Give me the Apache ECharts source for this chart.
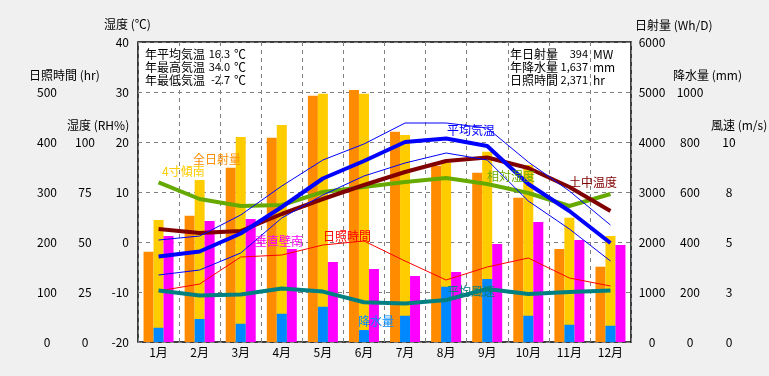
<!DOCTYPE html>
<html><head><meta charset="utf-8">
<script src="https://cdn.jsdelivr.net/npm/echarts@6/dist/echarts.min.js"></script>
<style>html,body{margin:0;padding:0;background:#F0F0F0}#c{width:769px;height:376px}</style>
</head><body><div id="c"></div>
<script>
const months = ['1月','2月','3月','4月','5月','6月','7月','8月','9月','10月','11月','12月'];
const solarAll   = [1806,2526,3486,4086,4926,5040,4206,3526,3386,2886,1860,1506];
const solarTilt4 = [2440,3240,4100,4340,4966,4966,4140,3586,3806,3540,2486,2120];
const solarVertS = [2120,2420,2460,1860,1600,1460,1320,1400,1960,2400,2040,1940];
const precip     = [57,92,73,113,141,48,105,221,252,105,69,65];
const tempAvg    = [-2.9,-1.9,1.7,7.0,12.7,16.2,20.0,20.7,19.2,11.6,6.2,-0.2];
const tempMax    = [0.4,1.2,5.4,11.2,16.4,19.6,23.8,23.8,22.8,16.0,10.2,3.4];
const tempMin    = [-6.6,-5.6,-2.2,4.8,9.4,13.2,15.8,17.8,16.4,8.2,2.6,-3.8];
const soilTemp   = [2.6,1.8,2.2,5.6,8.6,11.4,14.0,16.2,16.9,14.8,11.0,6.2];
const humidity   = [79.8,71.5,68,68.5,75,77.5,80,82,79,74.5,68,74];
const sunshine   = [102,116,170,174,194,202,162,124,150,168,128,112];
const wind       = [2.57,2.33,2.37,2.68,2.52,1.99,1.93,2.1,2.65,2.4,2.5,2.58];

const summaryLeft  = [['年平均気温','16.3','℃'],['年最高気温','34.0','℃'],['年最低気温','-2.7','℃']];
const summaryRight = [['年日射量','394','MW'],['年降水量','1,637','mm'],['日照時間','2,371','hr']];

const axisNames = [
  {text:'湿度 (℃)', x:104, y:24},
  {text:'日照時間 (hr)', x:29, y:75},
  {text:'湿度 (RH%)', x:67, y:125},
  {text:'日射量 (Wh/D)', x:635, y:25},
  {text:'降水量 (mm)', x:673, y:75},
  {text:'風速 (m/s)', x:711, y:125}
];
const seriesTags = [
  {text:'全日射量', x:193, y:159, c:'#FF8C00'},
  {text:'4寸傾南', x:162, y:171, c:'#FFCC00'},
  {text:'垂直壁南', x:255, y:241, c:'#FF00FF'},
  {text:'日照時間', x:323, y:236, c:'#FF0000'},
  {text:'降水量', x:358, y:321, c:'#0088FF'},
  {text:'平均風速', x:447, y:291, c:'#008080'},
  {text:'相対湿度', x:487, y:176, c:'#66AA00'},
  {text:'平均気温', x:447, y:130, c:'#0000FF'},
  {text:'土中温度', x:569, y:182, c:'#800000'}
];

const FONT = '"Noto Sans CJK JP", "Noto Sans", sans-serif';
const fontStr = '12px ' + FONT;
const numFont = '11px ' + FONT;
const graphics = [];
axisNames.forEach(a => graphics.push({type:'text', x:a.x, y:a.y, z:100,
  style:{text:a.text, font:fontStr, fill:'#000', align:'left', verticalAlign:'middle'}}));
seriesTags.forEach(a => graphics.push({type:'text', x:a.x, y:a.y, z:100,
  style:{text:a.text, font:fontStr, fill:a.c, align:'left', verticalAlign:'middle'}}));
summaryLeft.forEach((r,i) => {
  const y = 54 + i*13;
  graphics.push({type:'text', x:145, y, z:100, style:{text:r[0], font:fontStr, fill:'#000', align:'left', verticalAlign:'middle'}});
  graphics.push({type:'text', x:230, y, z:100, style:{text:r[1], font:numFont, fill:'#000', align:'right', verticalAlign:'middle'}});
  graphics.push({type:'text', x:234, y, z:100, style:{text:r[2], font:fontStr, fill:'#000', align:'left', verticalAlign:'middle'}});
});
summaryRight.forEach((r,i) => {
  const y = 54 + i*13;
  graphics.push({type:'text', x:510, y, z:100, style:{text:r[0], font:fontStr, fill:'#000', align:'left', verticalAlign:'middle'}});
  graphics.push({type:'text', x:588, y, z:100, style:{text:r[1], font:numFont, fill:'#000', align:'right', verticalAlign:'middle'}});
  graphics.push({type:'text', x:593, y, z:100, style:{text:r[2], font:fontStr, fill:'#000', align:'left', verticalAlign:'middle'}});
});

const lbl = (extra) => Object.assign({color:'#000', fontSize:12, fontFamily:FONT}, extra);
const hiddenLine = {show:false};
function yAx(o){
  return Object.assign({type:'value', axisLine:hiddenLine, axisTick:{show:false}, splitLine:{show:false}}, o);
}

const chart = echarts.init(document.getElementById('c'), null, {renderer:'canvas'});
chart.setOption({
  animation:false,
  backgroundColor:'#F0F0F0',
  textStyle:{fontFamily:FONT},
  grid:{left:138, top:42, right:138, bottom:34, show:true, backgroundColor:'#FFFFFF', borderColor:'#000', borderWidth:1.5},
  graphic:graphics,
  xAxis:[
    {type:'category', data:months, boundaryGap:true, axisLine:hiddenLine, axisTick:{show:false},
     axisLabel:lbl({margin:4}), splitLine:{show:true, lineStyle:{color:'#808080', type:[4,4], width:1}}},
    {type:'category', data:months, show:false}
  ],
  yAxis:[
    yAx({position:'left', min:-20, max:40, interval:10, offset:0,
         axisLabel:lbl({margin:9, align:'right'}),
         splitLine:{show:true, lineStyle:{color:'#808080', type:[4,4], width:1}}}),
    yAx({position:'left', min:0, max:150, interval:25, offset:0,
         axisLabel:lbl({margin:53, align:'center', formatter:v => v>100 ? '' : String(v)})}),
    yAx({position:'left', min:0, max:600, interval:100, offset:0,
         axisLabel:lbl({margin:91, align:'center', formatter:v => v>500 ? '' : String(v)})}),
    yAx({position:'right', min:0, max:6000, interval:1000, offset:0,
         axisLabel:lbl({margin:21, align:'center', formatter:v => String(v)})}),
    yAx({position:'right', min:0, max:1200, interval:200, offset:0,
         axisLabel:lbl({margin:59, align:'center', formatter:v => v>1000 ? '' : String(v)})}),
    yAx({position:'right', min:0, max:15, interval:2.5, offset:0,
         axisLabel:lbl({margin:98, align:'center', formatter:v => v>10 ? '' : String(Math.round(v))})})
  ],
  series:[
    {name:'全日射量', type:'bar', xAxisIndex:0, yAxisIndex:3, data:solarAll, barWidth:10, barGap:'0%', itemStyle:{color:'#FF8C00'}, z:1},
    {name:'4寸傾南', type:'bar', xAxisIndex:0, yAxisIndex:3, data:solarTilt4, barWidth:10, barGap:'0%', itemStyle:{color:'#FFCC00'}, z:1},
    {name:'垂直壁南', type:'bar', xAxisIndex:0, yAxisIndex:3, data:solarVertS, barWidth:10, barGap:'0%', itemStyle:{color:'#FF00FF'}, z:1},
    {name:'降水量', type:'bar', xAxisIndex:1, yAxisIndex:4, data:precip, barWidth:10, itemStyle:{color:'#0088FF'}, z:2},
    {name:'日照時間', type:'line', yAxisIndex:2, data:sunshine, showSymbol:false, lineStyle:{color:'#FF0000', width:1}, z:3},
    {name:'平均風速', type:'line', yAxisIndex:5, data:wind, showSymbol:false, lineStyle:{color:'#008080', width:4}, z:4},
    {name:'相対湿度', type:'line', yAxisIndex:1, data:humidity, showSymbol:false, lineStyle:{color:'#66AA00', width:4}, z:4},
    {name:'土中温度', type:'line', yAxisIndex:0, data:soilTemp, showSymbol:false, lineStyle:{color:'#800000', width:4}, z:5},
    {name:'最高気温', type:'line', yAxisIndex:0, data:tempMax, showSymbol:false, lineStyle:{color:'#0000FF', width:1}, z:6},
    {name:'最低気温', type:'line', yAxisIndex:0, data:tempMin, showSymbol:false, lineStyle:{color:'#0000FF', width:1}, z:6},
    {name:'平均気温', type:'line', yAxisIndex:0, data:tempAvg, showSymbol:false, lineStyle:{color:'#0000FF', width:4}, z:7}
  ]
});
</script></body></html>
